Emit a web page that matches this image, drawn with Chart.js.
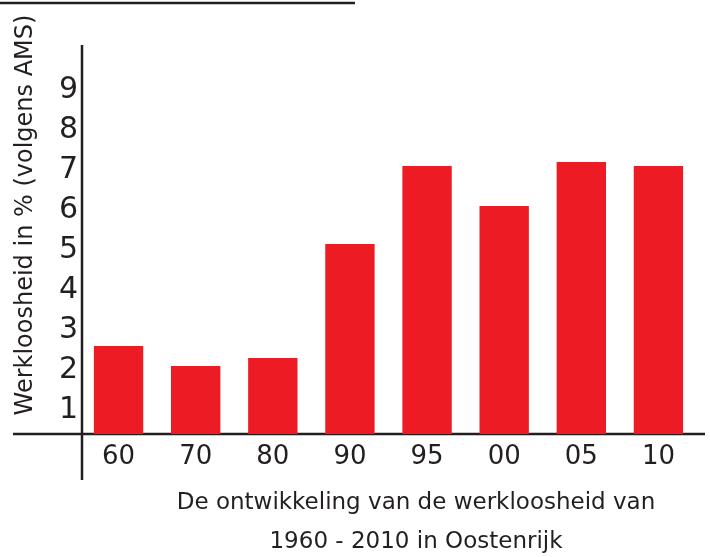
<!DOCTYPE html>
<html>
<head>
<meta charset="utf-8">
<script src="https://cdn.jsdelivr.net/npm/chart.js@4.4.0/dist/chart.umd.min.js"></script>
<style>
  html, body { margin: 0; padding: 0; background: #fff; }
  #wrap { width: 710px; height: 557px; position: relative; }
</style>
</head>
<body>
<div id="wrap"><canvas id="chart" width="710" height="557"></canvas></div>
<script>
const jaren = ["60", "70", "80", "90", "95", "00", "05", "10"];
const werkloosheid = [2.6, 2.1, 2.3, 5.15, 7.1, 6.1, 7.2, 7.1];
const yTicks = [1, 2, 3, 4, 5, 6, 7, 8, 9];
const yTitel = "Werkloosheid in % (volgens AMS)";
const xTitel = ["De ontwikkeling van de werkloosheid van", "1960 - 2010 in Oostenrijk"];

const lettertype = "'DejaVu Sans', sans-serif";
const inkt = "#231f20";

// assen en titels zelf tekenen, zoals in het origineel
const assenPlugin = {
  id: 'assen',
  beforeDatasetsDraw(chart) {
    const { ctx, chartArea } = chart;
    ctx.save();
    ctx.strokeStyle = inkt;
    ctx.lineWidth = 2.5;
    ctx.beginPath();
    ctx.moveTo(0, 3);
    ctx.lineTo(355, 3);
    // y-as loopt door tot onder de x-as
    ctx.moveTo(chartArea.left + 2, chartArea.top);
    ctx.lineTo(chartArea.left + 2, chartArea.bottom + 46);
    ctx.moveTo(13, chartArea.bottom);
    ctx.lineTo(chartArea.right + 8, chartArea.bottom);
    ctx.stroke();
    ctx.restore();
  },
  afterDraw(chart) {
    const ctx = chart.ctx;
    ctx.save();
    ctx.fillStyle = inkt;
    ctx.textAlign = "center";
    ctx.textBaseline = "middle";

    ctx.font = `24px ${lettertype}`;
    ctx.translate(26, 215);
    ctx.rotate(-Math.PI / 2);
    ctx.fillText(yTitel, 0, 0);
    ctx.setTransform(1, 0, 0, 1, 0, 0);

    ctx.font = `23px ${lettertype}`;
    ctx.fillText(xTitel[0], 416, 503);
    ctx.fillText(xTitel[1], 416, 542);
    ctx.restore();
  }
};

new Chart(document.getElementById("chart"), {
  type: "bar",
  plugins: [assenPlugin],
  data: {
    labels: jaren,
    datasets: [
      {
        data: werkloosheid,
        backgroundColor: "#ed1c24",
        borderWidth: 0,
        barPercentage: 0.64,
        categoryPercentage: 1,
      },
    ],
  },
  options: {
    responsive: false,
    animation: false,
    layout: {
      padding: { top: 45, right: 13, left: 0, bottom: 0 },
    },
    plugins: {
      legend: { display: false },
      tooltip: { enabled: false },
    },
    scales: {
      x: {
        grid: { display: false, drawTicks: false },
        border: { display: false },
        ticks: {
          color: inkt,
          font: { family: lettertype, size: 26 },
          padding: 8,
          maxRotation: 0,
        },
        afterFit(scale) {
          scale.height = 123;
        },
      },
      y: {
        min: 0.4,
        max: 10.125,
        grid: { display: false, drawTicks: false },
        border: { display: false },
        afterBuildTicks(scale) {
          scale.ticks = yTicks.map(v => ({ value: v }));
        },
        ticks: {
          color: inkt,
          font: { family: lettertype, size: 30 },
          padding: 2,
        },
        afterFit(scale) {
          scale.width = 80;
        },
      },
    },
  },
});
</script>
</body>
</html>
